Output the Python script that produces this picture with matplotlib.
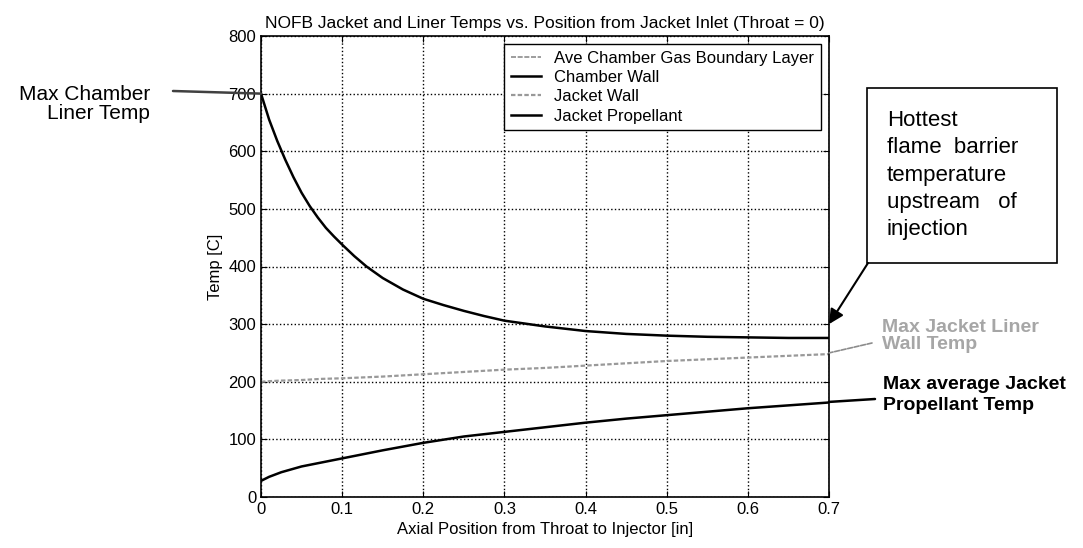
import matplotlib
matplotlib.use("Agg")
import matplotlib.pyplot as plt
from matplotlib.patches import Rectangle

plt.rcParams['font.family'] = ['Liberation Sans', 'DejaVu Sans']

# Werte
x_wall = [0, 0.01, 0.02, 0.03, 0.04, 0.05, 0.06, 0.07, 0.08, 0.09, 0.1, 0.115,
          0.13, 0.15, 0.175, 0.2, 0.225, 0.25, 0.275, 0.3, 0.35, 0.4, 0.45, 0.5,
          0.55, 0.6, 0.65, 0.7]
chamber_wall = [700, 655, 618, 585, 555, 528, 505, 485, 467, 452, 438, 418,
                400, 380, 360, 344, 333, 323, 314, 306, 296, 288, 283, 280,
                278, 277, 276, 276]

x_jacket = [0, 0.01, 0.025, 0.05, 0.075, 0.1, 0.15, 0.2, 0.25, 0.3, 0.35, 0.4,
            0.45, 0.5, 0.55, 0.6, 0.65, 0.7]
jacket_wall = [200, 201, 202, 203, 205, 206, 209, 213, 217, 221, 224, 228,
               232, 236, 239, 242, 245, 248]
jacket_prop = [28, 35, 43, 53, 60, 67, 81, 94, 105, 113, 121, 129,
               136, 142, 148, 154, 159, 164]

legend_labels = ['Ave Chamber Gas Boundary Layer', 'Chamber Wall', 'Jacket Wall',
                 'Jacket Propellant']

W, H = 1083, 548


def fig_xy(px, py):
    # Pixel (von oben links) -> figure fraction
    return px / W, 1 - py / H


fig = plt.figure(figsize=(W / 100, H / 100), dpi=100)
ax = fig.add_axes([261 / W, 51 / H, 568 / W, 461 / H])

# Grenzschicht liegt außerhalb des Bereichs, nur in der Legende
ax.plot([], [], color='0.55', lw=1.2, ls=(0, (3, 1)), label=legend_labels[0])
ax.plot(x_wall, chamber_wall, color='black', lw=1.8, label=legend_labels[1])
ax.plot(x_jacket, jacket_wall, color='0.6', lw=1.6, ls=(0, (2, 1)), label=legend_labels[2])
ax.plot(x_jacket, jacket_prop, color='black', lw=1.8, label=legend_labels[3])

ax.set_xlim(0, 0.7)
ax.set_ylim(0, 800)
ax.set_xticks([0, 0.1, 0.2, 0.3, 0.4, 0.5, 0.6, 0.7])
ax.set_xticklabels(['0', '0.1', '0.2', '0.3', '0.4', '0.5', '0.6', '0.7'])
ax.set_yticks(range(0, 801, 100))
ax.tick_params(direction='in', length=4, labelsize=12, top=True, right=True)
ax.grid(True, color='black', ls=':', lw=1)
for s in ax.spines.values():
    s.set_linewidth(1.2)

ax.set_title('NOFB Jacket and Liner Temps vs. Position from Jacket Inlet (Throat = 0)',
             fontsize=12.5, pad=6)
ax.set_xlabel('Axial Position from Throat to Injector [in]', fontsize=12)
ax.set_ylabel('Temp [C]', fontsize=12)

leg = ax.legend(loc='upper right', fontsize=12, fancybox=False, framealpha=1,
                edgecolor='black', labelspacing=0.25, handlelength=1.8,
                borderpad=0.4)
leg.get_frame().set_linewidth(1.0)

# linke Beschriftung
fig.text(*fig_xy(150, 104), 'Max Chamber\nLiner Temp', ha='right', va='center',
         fontsize=15, linespacing=1.05, multialignment='right')
ax.annotate('', xy=(0, 700), xycoords='data', xytext=fig_xy(173, 91),
            textcoords='figure fraction',
            arrowprops=dict(arrowstyle='-', color='0.25', lw=1.8, shrinkA=0, shrinkB=0))

# Kasten rechts
x0, y0 = fig_xy(867, 263)
x1, y1 = fig_xy(1057, 88)
fig.patches.append(Rectangle((x0, y0), x1 - x0, y1 - y0, transform=fig.transFigure,
                             fill=False, edgecolor='black', lw=1.2))
fig.text(*fig_xy(887, 175), 'Hottest\nflame  barrier\ntemperature\nupstream   of\ninjection',
         ha='left', va='center', fontsize=16, linespacing=1.38)
ax.annotate('', xy=(0.7, 300), xycoords='data', xytext=fig_xy(868, 263),
            textcoords='figure fraction',
            arrowprops=dict(arrowstyle='-|>', color='black', lw=1.5,
                            mutation_scale=22, shrinkA=0, shrinkB=0))

# Mantelwand
fig.text(*fig_xy(882, 336), 'Max Jacket Liner\nWall Temp', ha='left', va='center',
         fontsize=14, fontweight='bold', color='0.65', linespacing=1.0)
ax.annotate('', xy=(0.7, 250), xycoords='data', xytext=fig_xy(872, 343),
            textcoords='figure fraction',
            arrowprops=dict(arrowstyle='-', color='0.55', lw=1.2, ls=(0, (3, 1)),
                            shrinkA=0, shrinkB=0))

# Treibstoff
fig.text(*fig_xy(883, 395), 'Max average Jacket\nPropellant Temp', ha='left', va='center',
         fontsize=14, fontweight='bold', linespacing=1.35)
ax.annotate('', xy=(0.7, 165), xycoords='data', xytext=fig_xy(875, 399),
            textcoords='figure fraction',
            arrowprops=dict(arrowstyle='-', color='black', lw=1.8, shrinkA=0, shrinkB=0))

fig.savefig('out.png', dpi=100)
